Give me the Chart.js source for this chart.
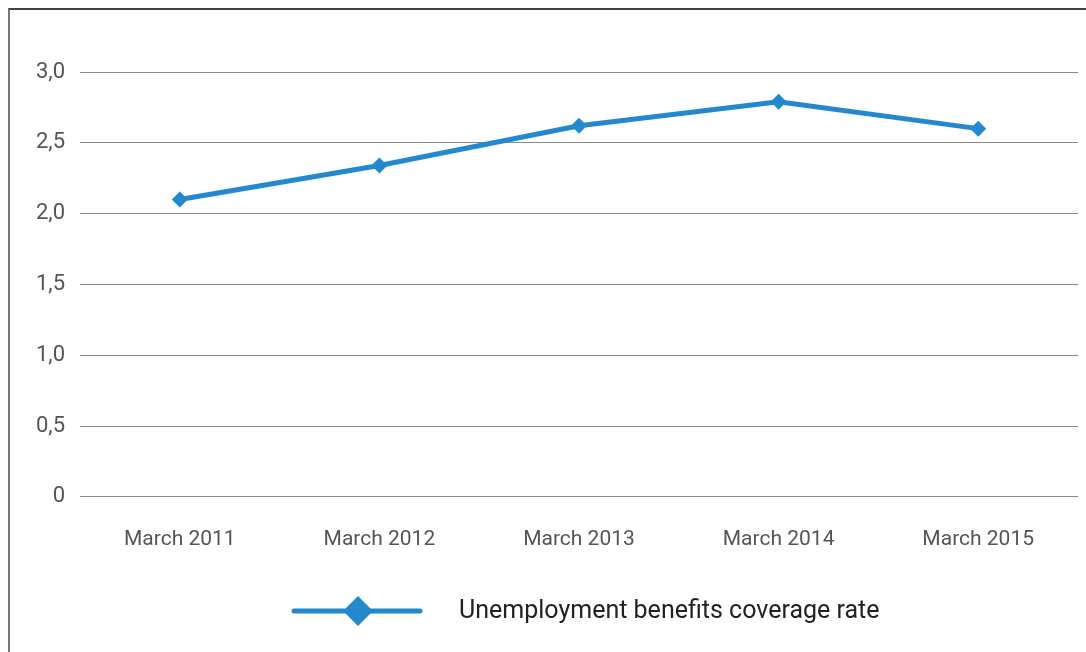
<!DOCTYPE html>
<html>
<head>
<meta charset="utf-8">
<script src="https://cdn.jsdelivr.net/npm/chart.js@4"></script>
<style>
  html, body { margin: 0; padding: 0; background: #fff; }
  #wrap { position: relative; width: 1086px; height: 652px; }
  #frame {
    position: absolute; left: 8px; top: 8px; right: 0; bottom: 0;
    border-top: 2px solid #444; border-left: 2px solid #777;
    pointer-events: none;
  }
</style>
</head>
<body>
<div id="wrap">
  <canvas id="coverageChart" width="1086" height="652"></canvas>
  <div id="frame"></div>
</div>
<script>
const categories = ['March 2011', 'March 2012', 'March 2013', 'March 2014', 'March 2015'];
const coverageRate = [2.1, 2.34, 2.62, 2.79, 2.6];
const seriesName = 'Unemployment benefits coverage rate';
const yTicks = [0, 0.5, 1.0, 1.5, 2.0, 2.5, 3.0];

const BLUE = '#2389cc';
const FONT = 'Roboto, "Liberation Sans", sans-serif';

// legend drawn by hand: thick line with a big diamond in the middle
const legendPlugin = {
  id: 'lineLegend',
  afterDraw(chart) {
    const ctx = chart.ctx;
    const y = 611;
    ctx.save();
    ctx.strokeStyle = BLUE;
    ctx.lineWidth = 5;
    ctx.lineCap = 'round';
    ctx.beginPath();
    ctx.moveTo(294, y);
    ctx.lineTo(420, y);
    ctx.stroke();
    ctx.fillStyle = BLUE;
    ctx.beginPath();
    ctx.moveTo(358, y - 15);
    ctx.lineTo(373, y);
    ctx.lineTo(358, y + 15);
    ctx.lineTo(343, y);
    ctx.closePath();
    ctx.fill();
    ctx.fillStyle = '#222';
    ctx.font = '25px ' + FONT;
    ctx.textBaseline = 'middle';
    ctx.fillText(seriesName, 459, y + 1);
    ctx.restore();
  }
};

const ctx = document.getElementById('coverageChart').getContext('2d');
const chart = new Chart(ctx, {
  type: 'line',
  data: {
    labels: categories,
    datasets: [{
      label: seriesName,
      data: coverageRate,
      borderColor: BLUE,
      backgroundColor: BLUE,
      borderWidth: 5,
      tension: 0,
      pointStyle: 'rectRot',
      pointRadius: 8,
      pointHoverRadius: 8,
      pointBorderWidth: 0,
      pointBackgroundColor: BLUE
    }]
  },
  options: {
    responsive: false,
    animation: false,
    layout: { padding: { top: 72, right: 5, bottom: 70, left: 10 } },
    plugins: {
      legend: { display: false },
      tooltip: { enabled: false }
    },
    scales: {
      x: {
        offset: true,
        grid: { display: false, drawTicks: false },
        border: { display: false },
        ticks: {
          color: '#555',
          font: { family: FONT, size: 21 },
          padding: 30,
          maxRotation: 0
        }
      },
      y: {
        min: 0,
        max: 3,
        afterBuildTicks(axis) {
          axis.ticks = yTicks.map(v => ({ value: v }));
        },
        afterFit(axis) { axis.width = 70; },
        grid: { color: '#8a8a8a', lineWidth: 1, drawTicks: false },
        border: { display: false },
        ticks: {
          color: '#555',
          font: { family: FONT, size: 22 },
          padding: 15,
          callback: v => v === 0 ? '0' : v.toFixed(1).replace('.', ',')
        }
      }
    }
  },
  plugins: [legendPlugin]
});
</script>
</body>
</html>
